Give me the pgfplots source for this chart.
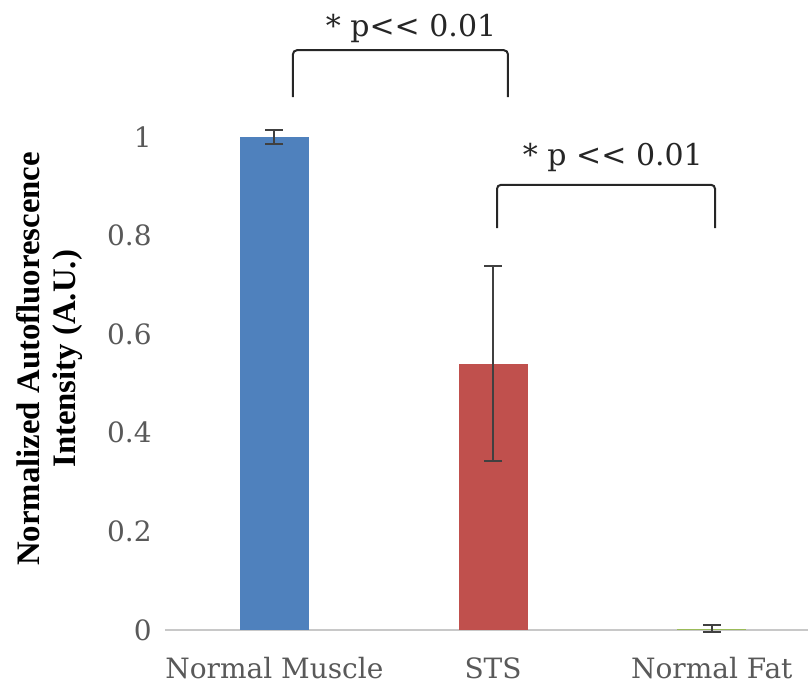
\documentclass[border=0pt]{standalone}
\usepackage{fontspec}
\setmainfont{DejaVu Serif}
\newfontfamily\labelserif{Liberation Serif}
\usepackage{pgfplots}
\pgfplotsset{compat=1.18}

\definecolor{barblue}{HTML}{4F81BD}
\definecolor{barred}{HTML}{C0504D}
\definecolor{bargreen}{HTML}{9BBB59}
\definecolor{ticktext}{HTML}{595959}
\definecolor{errgray}{HTML}{404040}
\definecolor{basegray}{HTML}{C8C8C8}

\begin{document}
\begin{tikzpicture}
\begin{axis}[
  scale only axis,
  width=321.5pt, height=246.5pt,
  xmin=-0.5, xmax=2.44, ymin=0, ymax=1,
  clip=false,
  axis line style={draw=none},
  major tick length=0pt,
  tick style={draw=none},
  xtick={0,1,2},
  xticklabels={Normal Muscle, STS, Normal Fat},
  ytick={0,0.2,0.4,0.6,0.8,1},
  yticklabels={0,0.2,0.4,0.6,0.8,1},
  /pgf/number format/assume math mode=true,
  xticklabel style={font=\fontsize{14}{16}\selectfont, text=ticktext, inner sep=0pt, anchor=base, yshift=-24pt},
  yticklabel style={font=\fontsize{14}{16}\selectfont, text=ticktext, inner sep=0pt, anchor=east, xshift=-6.5pt},
  ybar, bar width=34.5pt, bar shift=0pt,
  error bars/y dir=both, error bars/y explicit,
  error bars/error bar style={line width=1pt, errgray},
  error bars/error mark options={rotate=90, line width=1pt, errgray, mark size=4.5pt},
]
% baseline of the category axis
\draw[basegray, line width=0.8pt] (axis cs:-0.5,0) -- (axis cs:2.44,0);

% mean normalized intensity with error bars
\addplot[fill=barblue, draw=none] coordinates {(0,1.0) +- (0,0.015)};
\addplot[fill=barred, draw=none] coordinates {(1,0.54) +- (0,0.198)};
\addplot[fill=bargreen, draw=none] coordinates {(2,0.003) +- (0,0.007)};

% significance brackets
\draw[black!85, line width=1pt, rounded corners=2pt]
  (axis cs:0.085,1.081) -- (axis cs:0.085,1.176) -- (axis cs:1.068,1.176) -- (axis cs:1.068,1.081);
\node[anchor=base, inner sep=0pt, text=black!85, font=\fontsize{15}{18}\selectfont]
  at (axis cs:0.625,1.203) {* p<\kern0pt< 0.01};
\draw[black!85, line width=1pt, rounded corners=2pt]
  (axis cs:1.018,0.815) -- (axis cs:1.018,0.903) -- (axis cs:2.015,0.903) -- (axis cs:2.015,0.815);
\node[anchor=base, inner sep=0pt, text=black!85, font=\fontsize{15}{18}\selectfont]
  at (axis cs:1.548,0.943) {* p <\kern0pt< 0.01};

% y axis title
\node[rotate=90, align=center, inner sep=0pt,
      font=\labelserif\bfseries\fontsize{16.4}{18}\selectfont]
  at (axis cs:-1.03,0.55) {Normalized Autofluorescence\\Intensity (A.U.)};

\coordinate (o) at (rel axis cs:0,0);
\end{axis}
\pgfresetboundingbox
\path[use as bounding box] (o) ++(-82.5pt,-28pt) rectangle ++(404pt,343pt);
\end{tikzpicture}
\end{document}
